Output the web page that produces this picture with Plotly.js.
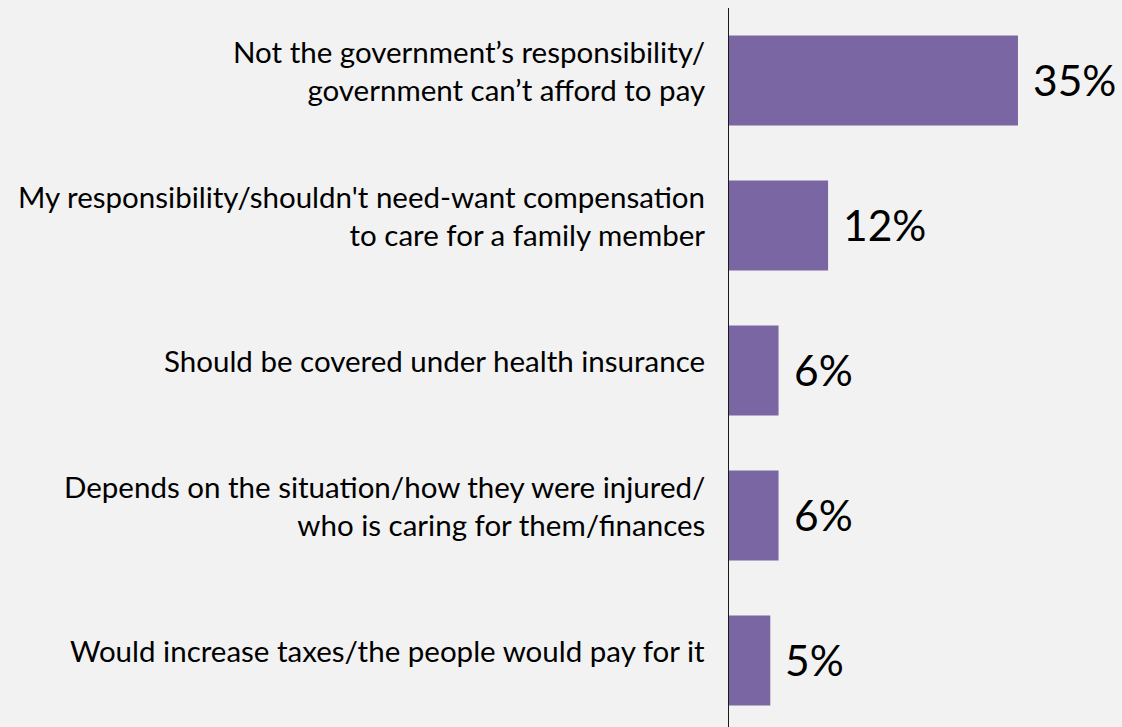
<!DOCTYPE html>
<html>
<head>
<meta charset="utf-8">
<script src="https://cdn.plot.ly/plotly-3.0.1.min.js"></script>
<style>html,body{margin:0;padding:0;background:#f2f2f2;}#chart{width:1122px;height:727px;}</style>
</head>
<body>
<div id="chart"></div>
<script>
const categories = [
  "Not the government’s responsibility/<br>government can’t afford to pay",
  "My responsibility/shouldn't need-want compensation<br>to care for a family member",
  "Should be covered under health insurance",
  "Depends on the situation/how they were injured/<br>who is caring for them/finances",
  "Would increase taxes/the people would pay for it"
];
const values = [35, 12, 6, 6, 5];
const valueLabels = ["35%", "12%", "6%", "6%", "5%"];

const FONT = "Lato, 'Open Sans', sans-serif";
const idx = categories.map((c, i) => i);

const trace = {
  type: "bar",
  orientation: "h",
  x: values,
  y: idx,
  width: 0.62,
  marker: {color: "#7a66a2"},
  hoverinfo: "none"
};

const annotations = [];
categories.forEach((c, i) => {
  annotations.push({
    xref: "paper", yref: "y", x: 0, y: i,
    xanchor: "right", yanchor: "middle", align: "right",
    xshift: -22, yshift: 10,
    text: c, showarrow: false,
    font: {family: FONT, size: 29.5, color: "#000"}
  });
  annotations.push({
    xref: "x", yref: "y", x: values[i], y: i,
    xanchor: "left", yanchor: "middle",
    xshift: 13, yshift: 1,
    text: valueLabels[i], showarrow: false,
    font: {family: FONT, size: 42.5, color: "#000"}
  });
});

const layout = {
  width: 1122, height: 727,
  margin: {l: 729, r: 0, t: 8, b: 0},
  paper_bgcolor: "#f2f2f2",
  plot_bgcolor: "#f2f2f2",
  showlegend: false,
  xaxis: {range: [0, 47.6], showgrid: false, zeroline: false, showticklabels: false, showline: false},
  yaxis: {range: [4.459, -0.5], showgrid: false, zeroline: false, showticklabels: false,
          showline: true, linecolor: "#1a1a1a", linewidth: 1.5, ticks: ""},
  annotations: annotations
};

Plotly.newPlot("chart", [trace], layout, {displayModeBar: false, staticPlot: true});
</script>
</body>
</html>
